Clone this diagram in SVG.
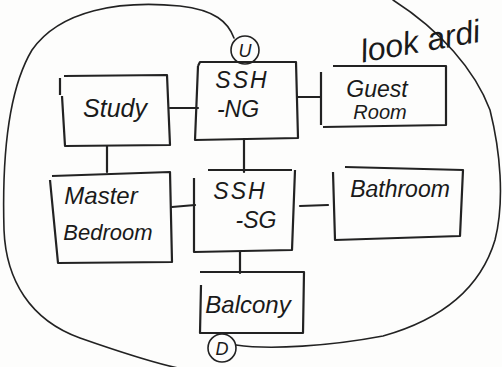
<svg xmlns="http://www.w3.org/2000/svg" width="502" height="367" viewBox="0 0 502 367">
<style>
.box{fill:none;stroke:#222;stroke-width:2.2;stroke-linejoin:round}
.ln{fill:none;stroke:#222;stroke-width:2.2;stroke-linecap:round}
.cv{fill:none;stroke:#222;stroke-width:1.6;stroke-linecap:round}
.t{font-family:"Liberation Sans",sans-serif;font-style:italic;fill:#1a1a1a;text-anchor:middle}
</style>
<rect width="502" height="367" fill="#fdfdfc"/>
<g id="connectors">
<line class="ln" x1="170" y1="108" x2="198" y2="108"/>
<line class="ln" x1="298" y1="97" x2="320" y2="97"/>
<line class="ln" x1="107" y1="146" x2="107" y2="172"/>
<line class="ln" x1="244" y1="139" x2="244" y2="172"/>
<line class="ln" x1="172" y1="207" x2="195" y2="205"/>
<line class="ln" x1="300" y1="206" x2="328" y2="205"/>
<line class="ln" x1="240" y1="252" x2="240" y2="273"/>
<path class="cv" d="M234,38 C228,22 215,10 180,6 C120,0 60,10 32,50 C8,90 2,160 4,230 C6,280 30,320 80,338 C120,352 150,362 178,368"/>
<path class="cv" d="M236,345 C270,350 330,346 383,336 C440,320 480,290 495,240 C505,200 500,150 490,110 C475,70 440,30 393,0"/>
</g>
<g id="study">
<path class="box" d="M60,95 L60,78 M64,76 L167,75 L170,145 L65,146 L62,96"/>
<text class="t" x="115" y="117" font-size="25">Study</text>
</g>
<g id="ssh-ng">
<path class="box" d="M198,66 L200,62 L296,62 L298,138 L195,140 L198,66"/>
<text class="t" x="242" y="88" font-size="23" letter-spacing="2">SSH</text>
<text class="t" x="238" y="117" font-size="23">-NG</text>
</g>
<g id="guest-room">
<path class="box" d="M321,72 L321,125 M333,66 L446,66 L446,125 L323,127"/>
<text class="t" x="377" y="97" font-size="23">Guest</text>
<text class="t" x="380" y="119" font-size="20">Room</text>
</g>
<g id="master-bedroom">
<path class="box" d="M52,176 L170,172 L172,262 L58,263 L50,180"/>
<text class="t" x="101" y="204" font-size="24">Master</text>
<text class="t" x="108" y="240" font-size="22">Bedroom</text>
</g>
<g id="ssh-sg">
<path class="box" d="M194,178 L194,252 L292,250 L295,170 M208,170 L292,170"/>
<text class="t" x="240" y="199" font-size="23" letter-spacing="2">SSH</text>
<text class="t" x="256" y="228" font-size="23">-SG</text>
</g>
<g id="bathroom">
<path class="box" d="M333,172 L335,240 L460,236 L463,170 L345,167"/>
<text class="t" x="400" y="197" font-size="23">Bathroom</text>
</g>
<g id="balcony">
<path class="box" d="M201,285 L200,333 L303,333 L304,272 L200,272"/>
<text class="t" x="248" y="313" font-size="24">Balcony</text>
</g>
<g id="up">
<circle class="cv" cx="245" cy="50" r="14" stroke-width="2"/>
<text class="t" x="245" y="57" font-size="18">U</text>
</g>
<g id="down">
<circle class="cv" cx="222" cy="348" r="14" stroke-width="2"/>
<text class="t" x="222" y="355" font-size="18">D</text>
</g>
<g id="note">
<text class="t" x="422" y="52" font-size="32" transform="rotate(-10 422 52)">look ardi</text>
</g>
</svg>
